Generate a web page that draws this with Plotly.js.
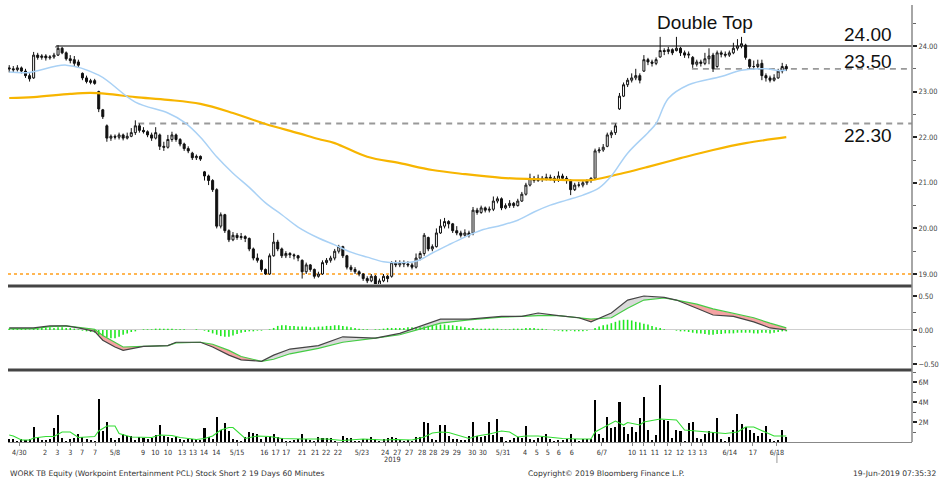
<!DOCTYPE html>
<html><head><meta charset="utf-8">
<script src="https://cdn.plot.ly/plotly-3.0.1.min.js"></script>
<style>html,body{margin:0;padding:0;background:#fff}#chart{width:939px;height:480px}</style>
</head><body><div id="chart"></div>
<script>
// ---- price bars (60-minute), 6 bars per trading day ----
const open=[
23.52,23.50,23.48,23.52,23.45,23.35, 23.30,23.80,23.75,23.78,23.74,23.76,
23.80,23.95,23.85,23.72,23.70,23.65, 23.40,23.30,23.20,23.24,23.00,22.60,
22.25,21.98,22.02,22.00,22.05,21.98, 22.02,22.10,22.25,22.15,22.12,22.05,
21.98,22.05,21.80,21.78,21.95,22.05, 21.95,21.85,21.75,21.65,21.55,21.58,
21.24,21.15,21.05,20.85,20.05,20.30, 19.95,19.75,19.85,19.80,19.82,19.78,
19.55,19.35,19.30,19.10,19.00,19.40, 19.70,19.55,19.40,19.45,19.42,19.40,
19.30,19.05,19.20,19.10,18.95,19.00, 19.25,19.30,19.35,19.50,19.60,19.40,
19.15,19.10,19.05,19.00,18.90,18.85, 18.95,18.75,18.85,18.95,18.95,19.25,
19.20,19.25,19.22,19.20,19.15,19.35, 19.45,19.80,19.55,19.60,19.90,20.05,
20.15,20.10,19.95,19.90,19.85,19.90, 19.90,20.40,20.35,20.45,20.40,20.42,
20.60,20.65,20.45,20.50,20.55,20.50, 20.60,20.75,20.95,21.10,21.05,21.10,
21.08,21.12,21.10,21.05,21.15,21.10, 21.05,20.85,20.95,20.95,21.00,21.05,
21.10,21.70,21.72,21.80,22.05,22.10, 22.62,22.90,23.15,23.25,23.30,23.35,
23.45,23.70,23.65,23.62,23.76,23.90, 23.88,23.92,23.90,23.95,23.85,23.80,
23.75,23.60,23.65,23.62,23.72,23.80, 23.55,23.85,23.82,23.80,23.85,23.95,
24.00,24.02,23.70,23.55,23.55,23.62, 23.35,23.30,23.25,23.30,23.45,23.55];
const high=[
23.58,23.56,23.58,23.55,23.50,23.40, 23.87,23.85,23.82,23.82,23.80,23.85,
24.02,23.98,23.88,23.80,23.78,23.70, 23.42,23.35,23.28,23.28,23.02,22.62,
22.28,22.06,22.06,22.10,22.08,22.10, 22.20,22.37,22.30,22.22,22.15,22.10,
22.22,22.08,21.90,22.05,22.12,22.08, 21.98,21.88,21.80,21.68,21.62,21.60,
21.26,21.18,21.08,20.88,20.35,20.32, 19.98,19.92,19.90,19.90,19.85,19.80,
19.58,19.45,19.32,19.12,19.45,19.90, 19.75,19.58,19.50,19.48,19.45,19.42,
19.32,19.25,19.22,19.12,19.05,19.30, 19.35,19.40,19.55,19.64,19.62,19.42,
19.20,19.15,19.08,19.02,18.95,19.00, 18.98,18.90,19.00,18.98,19.28,19.30,
19.30,19.30,19.28,19.25,19.45,19.50, 19.90,19.82,19.65,20.00,20.20,20.23,
20.18,20.12,20.05,19.95,19.98,19.95, 20.47,20.45,20.50,20.48,20.48,20.70,
20.70,20.68,20.55,20.62,20.58,20.65, 20.80,21.00,21.20,21.15,21.18,21.15,
21.20,21.18,21.15,21.25,21.20,21.15, 21.08,21.00,21.02,21.05,21.08,21.12,
21.75,21.78,21.85,22.10,22.15,22.30, 22.97,23.20,23.30,23.40,23.50,23.40,
23.80,23.74,23.70,23.75,24.20,23.95, 23.98,23.95,24.20,23.98,23.90,23.88,
23.78,23.70,23.70,23.85,23.95,23.85, 23.90,23.90,23.88,23.90,24.07,24.15,
24.20,24.05,23.72,23.68,23.70,23.70, 23.40,23.35,23.38,23.50,23.63,23.60];
const low=[
23.42,23.42,23.44,23.40,23.30,23.22, 23.28,23.70,23.70,23.68,23.70,23.72,
23.78,23.82,23.68,23.62,23.55,23.52, 23.25,23.18,23.16,23.15,22.55,22.40,
21.90,21.92,21.95,21.95,21.93,21.95, 22.00,22.05,22.10,22.08,22.00,21.92,
21.95,21.72,21.70,21.75,21.90,21.90, 21.80,21.70,21.65,21.50,21.50,21.48,
21.05,20.95,20.80,20.00,20.00,19.90, 19.70,19.72,19.75,19.75,19.70,19.50,
19.30,19.25,19.05,18.98,18.98,19.38, 19.50,19.35,19.35,19.35,19.32,19.28,
18.90,19.00,19.05,18.90,18.92,18.98, 19.20,19.25,19.30,19.45,19.35,19.10,
19.05,19.00,18.95,18.85,18.80,18.82, 18.70,18.72,18.82,18.82,18.92,19.15,
19.15,19.15,19.15,19.10,19.12,19.30, 19.40,19.50,19.50,19.58,19.88,20.00,
20.00,19.90,19.85,19.80,19.82,19.80, 19.85,20.30,20.32,20.35,20.35,20.38,
20.55,20.40,20.42,20.45,20.45,20.48, 20.58,20.72,20.92,21.00,21.02,21.02,
21.05,21.05,21.00,21.02,21.05,20.98, 20.73,20.82,20.90,20.90,20.95,21.00,
21.06,21.65,21.68,21.78,21.98,22.05, 22.60,22.88,23.10,23.20,23.25,23.18,
23.43,23.58,23.55,23.58,23.74,23.80, 23.82,23.80,23.88,23.78,23.74,23.73,
23.52,23.55,23.55,23.58,23.60,23.43, 23.52,23.75,23.75,23.76,23.82,23.90,
23.95,23.70,23.50,23.48,23.50,23.25, 23.22,23.20,23.22,23.28,23.40,23.45];
const close=[
23.50,23.48,23.52,23.45,23.35,23.28, 23.80,23.75,23.78,23.74,23.76,23.80,
23.95,23.85,23.72,23.68,23.62,23.58, 23.30,23.22,23.24,23.18,22.62,22.45,
21.98,22.02,22.00,22.05,21.98,22.02, 22.10,22.25,22.15,22.12,22.05,21.98,
22.10,21.80,21.78,21.95,22.05,21.95, 21.85,21.75,21.70,21.55,21.58,21.52,
21.15,21.05,20.85,20.05,20.30,19.95, 19.75,19.85,19.80,19.82,19.78,19.55,
19.35,19.30,19.10,19.00,19.40,19.70, 19.55,19.40,19.45,19.42,19.40,19.35,
19.05,19.20,19.10,18.95,19.00,19.25, 19.30,19.35,19.50,19.60,19.40,19.15,
19.10,19.05,19.00,18.90,18.85,18.95, 18.75,18.85,18.95,18.90,19.25,19.20,
19.25,19.22,19.20,19.15,19.35,19.45, 19.85,19.55,19.60,19.90,20.05,20.15,
20.10,19.95,19.90,19.85,19.90,19.85, 20.40,20.35,20.45,20.40,20.42,20.60,
20.65,20.45,20.50,20.55,20.50,20.60, 20.75,20.95,21.10,21.05,21.10,21.08,
21.12,21.10,21.05,21.15,21.10,21.05, 20.85,20.95,20.95,21.00,21.05,21.10,
21.70,21.72,21.78,22.05,22.10,22.25, 22.90,23.15,23.25,23.30,23.35,23.25,
23.70,23.65,23.62,23.70,23.90,23.88, 23.92,23.85,23.95,23.85,23.80,23.82,
23.60,23.65,23.62,23.72,23.78,23.50, 23.85,23.82,23.80,23.85,23.95,24.00,
24.05,23.75,23.55,23.55,23.60,23.35, 23.30,23.25,23.30,23.45,23.55,23.50];

// ---- moving averages on price (read at sample bars) ----
const maBlueIdx=[0,5,14,22,31,39,43,47,51,55,59,63,67,71,76,80,84,88,92,96,100,104,108,112,116,121,125,129,133,137,141,145,148,152,157,159,162,167,175,180,186,189,191];
const maBlueVal=[23.43,23.42,23.58,23.36,22.77,22.53,22.33,22.00,21.57,21.21,20.90,20.56,20.30,20.03,19.79,19.64,19.48,19.37,19.27,19.25,19.28,19.46,19.64,19.81,19.96,20.07,20.18,20.36,20.51,20.62,20.73,20.89,21.15,21.65,22.10,22.30,22.85,23.15,23.33,23.47,23.50,23.46,23.47];
const maOrangeIdx=[0,6,15,20,24,31,39,47,55,63,71,76,80,88,96,104,112,121,129,137,143,148,157,165,173,181,191];
const maOrangeVal=[22.86,22.88,22.95,22.97,22.95,22.88,22.82,22.73,22.53,22.29,22.09,21.96,21.87,21.57,21.43,21.28,21.19,21.11,21.08,21.06,21.06,21.15,21.35,21.54,21.72,21.87,22.00];

// ---- MACD ----
const macdIdx=[0,6,10,14,17,21,23,26,28,33,39,41,47,50,54,57,62,65,69,76,82,90,96,102,106,113,121,126,130,135,140,143,148,152,156,161,164,169,173,178,183,187,191];
const macdVal=[0.03,0.03,0.06,0.06,0.03,-0.02,-0.15,-0.25,-0.30,-0.24,-0.23,-0.18,-0.18,-0.25,-0.37,-0.44,-0.46,-0.37,-0.28,-0.23,-0.10,-0.12,-0.05,0.07,0.16,0.16,0.20,0.20,0.25,0.21,0.18,0.12,0.25,0.44,0.50,0.48,0.44,0.32,0.22,0.20,0.12,0.03,0.00];
const signalVal=[0.02,0.02,0.05,0.06,0.04,0.01,-0.08,-0.18,-0.25,-0.24,-0.23,-0.19,-0.18,-0.21,-0.30,-0.39,-0.46,-0.43,-0.35,-0.27,-0.18,-0.12,-0.07,0.03,0.10,0.15,0.19,0.20,0.21,0.21,0.18,0.16,0.18,0.32,0.44,0.47,0.44,0.38,0.31,0.24,0.18,0.10,0.03];
const histogram=[
0.02,0.02,0.03,0.02,0.02,0.01,0.03,0.03,0.04,0.04,0.04,0.03,0.04,0.04,0.03,0.03,0.02,0.01,
-0.01,-0.02,-0.03,-0.04,
-0.07,-0.09,-0.11,-0.12,-0.12,-0.10,
-0.07,-0.05,-0.03,-0.02,
0.00,0.01,0.01,0.01,0.02,0.02,0.02,0.02,0.02,0.01,0.01,0.01,0.00,0.00,0.01,0.00,-0.01,
-0.03,-0.05,-0.07,-0.09,-0.10,-0.10,-0.08,-0.06,-0.04,
-0.03,-0.02,-0.02,-0.01,-0.01,0.00,0.01,0.03,
0.06,0.07,0.07,0.06,0.06,0.05,0.05,0.05,0.04,0.04,0.05,0.05,0.06,0.06,0.07,0.07,0.06,0.05,0.04,0.03,0.02,0.01,
0.01,0.00,0.01,0.01,0.02,
0.03,0.03,0.03,0.03,0.03,0.04,0.04,0.04,0.04,
0.05,0.06,0.07,0.07,0.08,0.08,0.07,0.07,0.06,0.05,0.04,0.03,
0.03,0.02,0.02,0.02,0.02,0.02,0.02,0.01,0.01,0.01,0.02,0.02,0.02,0.03,0.03,0.03,0.02,0.02,
0.01,0.00,-0.01,-0.01,-0.02,-0.02,-0.01,-0.02,-0.02,-0.02,-0.01,0.00,
0.03,0.05,0.07,0.08,0.10,0.12,0.14,0.15,0.15,0.14,0.12,0.11,0.09,0.08,0.06,0.04,0.03,
0.01,0.00,0.00,-0.01,-0.02,-0.02,-0.03,
-0.04,-0.05,-0.05,-0.06,-0.07,-0.07,-0.06,-0.06,-0.05,-0.05,-0.05,-0.04,-0.04,-0.04,-0.04,-0.05,-0.05,-0.04,-0.04,-0.05,-0.04,-0.03,-0.02,-0.02];

// ---- volume (millions) ----
const volume=[
0.3,0.3,0.1,0.3,0.2,0.3, 1.5,0.5,0.2,0.2,0.3,1.4, 2.7,0.4,0.1,0.3,0.4,0.8, 0.5,0.3,0.2,0.1,4.3,1.1,
2.0,0.4,0.2,0.4,0.8,0.6, 0.6,0.2,0.5,0.4,0.3,0.4, 0.7,1.7,0.6,0.5,0.4,0.5, 0.3,0.2,0.3,0.3,0.3,0.2,
1.4,0.5,0.3,2.5,1.2,1.9, 1.1,0.3,0.2,0.1,0.5,1.0, 0.9,0.8,0.3,0.5,0.6,0.8, 0.5,0.4,0.1,0.1,0.2,0.3,
0.8,0.3,0.2,0.1,0.5,0.4, 0.4,0.4,0.1,0.05,0.6,0.4, 0.4,0.1,0.1,0.3,0.3,0.5, 0.3,0.1,0.3,0.4,0.5,0.4,
0.2,0.1,0.2,0.1,0.5,0.5, 2.0,1.9,0.3,0.2,1.7,1.7, 0.6,0.3,0.3,0.2,0.2,0.6, 2.0,0.6,0.5,0.6,2.0,0.7,
2.3,0.5,0.1,0.2,0.4,0.5, 0.4,1.6,0.3,0.2,0.4,0.5, 0.8,0.3,0.1,0.2,0.2,0.3, 0.8,0.3,0.1,0.3,0.3,0.3,
4.2,0.8,0.4,2.5,1.4,1.5, 4.0,1.5,0.8,1.5,1.0,2.4, 4.5,1.2,0.2,0.7,5.7,2.2, 2.1,0.4,1.2,1.1,0.1,1.9,
2.0,0.4,0.3,0.8,1.1,1.0, 2.4,0.3,0.1,0.5,1.2,2.8, 1.8,1.5,1.2,0.9,0.6,0.9, 1.6,0.3,0.1,0.2,1.2,0.5];
const volMaIdx=[0,1,3,5,6,9,11,13,15,17,21,22,24,26,27,30,35,37,40,42,46,48,50,52,54,55,58,61,64,67,72,78,82,87,92,95,99,102,104,106,108,110,113,115,118,121,123,125,127,130,133,136,140,143,144,147,149,151,152,155,156,160,164,166,169,173,176,179,181,183,186,188,191];
const volMaVal=[0.7,0.6,0.2,0.2,0.4,0.55,0.55,1.0,1.0,0.45,0.55,1.1,1.6,1.6,0.85,0.5,0.45,0.7,0.65,0.45,0.25,0.35,0.6,1.2,1.45,1.45,0.35,0.6,0.55,0.35,0.3,0.3,0.15,0.3,0.2,0.25,0.2,0.5,0.9,1.0,0.95,0.7,0.35,0.6,0.8,1.1,1.0,0.5,0.6,0.6,0.5,0.35,0.3,0.3,1.0,1.7,2.1,1.7,1.95,1.7,2.0,2.3,2.2,1.2,1.1,0.95,0.85,1.0,1.5,1.5,0.95,0.6,0.6];

// ---- x tick labels (bar position, text) ----
const tickIdx=[2.5,8.8,11.8,15,17.9,21.1,26,32.9,35.9,39,42.5,45.2,47.9,50.9,56,62.7,65.5,68.1,72,75.2,77.9,80.8,86.7,92.4,95.4,98.3,101.5,104.2,107.1,110,113.8,116.4,121.4,126.8,129.7,132.4,135.1,138.3,145.7,153.1,155.8,158.7,161.9,164.9,167.8,170.5,177.1,182.8,188.7];
const tickText=['4/30','2','3','3','7','7','5/8','9','10','10','13','13','14','14','5/15','16','17','17','21','21','22','22','5/23','24','27','27','28','28','29','29','30','30','5/31','4','5','5','6','6','6/7','10','11','11','12','12','13','13','6/14','17','6/18'];

// ---- reference levels ----
const levelVals=[24.00,23.50,22.30,19.00];
const levelStart=[11.5,167.8,31.7,-0.3];
const levelText=['24.00','23.50','22.30'];

// ================= drawing =================
const XMAX=221.9;
const idx=close.map((_,i)=>i);
const px=x=>(x-8)/904, py=y=>(442-y)/437;

// MACD fill polygons (pink where MACD below signal, grey where above)
const redX=[],redY=[],grayX=[],grayY=[];
function addPoly(xs,ys,neg){const X=neg?redX:grayX,Y=neg?redY:grayY;X.push(...xs,null);Y.push(...ys,null);}
for(let k=0;k<macdIdx.length-1;k++){
  const x0=macdIdx[k],x1=macdIdx[k+1],m0=macdVal[k],m1=macdVal[k+1],s0=signalVal[k],s1=signalVal[k+1];
  const d0=m0-s0,d1=m1-s1;
  if(d0*d1<0){const t=d0/(d0-d1);const xc=x0+t*(x1-x0),yc=m0+t*(m1-m0);
    addPoly([x0,xc,x0],[m0,yc,s0],d0<0);addPoly([xc,x1,x1],[yc,m1,s1],d1<0);}
  else if(d0!==0||d1!==0) addPoly([x0,x1,x1,x0],[m0,m1,s1,s0],(d0+d1)<0);
}
// histogram as thin vertical strokes so it layers with the lines
const hX=[],hY=[];
histogram.forEach((v,i)=>{hX.push(i,i,null);hY.push(0,v,null);});

const traces=[
 {type:'scatter',mode:'lines',x:maOrangeIdx,y:maOrangeVal,line:{color:'#f7b500',width:2.2,shape:'spline'},hoverinfo:'skip'},
 {type:'scatter',mode:'lines',x:maBlueIdx,y:maBlueVal,line:{color:'#a9d1f5',width:1.5,shape:'spline'},hoverinfo:'skip'},
 {type:'candlestick',x:idx,open:open,high:high,low:low,close:close,
  increasing:{line:{color:'#111',width:1},fillcolor:'#ffffff'},
  decreasing:{line:{color:'#111',width:1},fillcolor:'#111111'},hoverinfo:'skip'},
 {type:'scatter',mode:'lines',x:redX,y:redY,fill:'toself',fillcolor:'#f4a3a3',line:{width:0,color:'rgba(0,0,0,0)'},xaxis:'x',yaxis:'y2',hoverinfo:'skip'},
 {type:'scatter',mode:'lines',x:grayX,y:grayY,fill:'toself',fillcolor:'#d9d9d9',line:{width:0,color:'rgba(0,0,0,0)'},xaxis:'x',yaxis:'y2',hoverinfo:'skip'},
 {type:'scatter',mode:'lines',x:hX,y:hY,line:{color:'#22e822',width:1.6},connectgaps:false,xaxis:'x',yaxis:'y2',hoverinfo:'skip'},
 {type:'scatter',mode:'lines',x:macdIdx,y:signalVal,line:{color:'#44cc44',width:1.2},xaxis:'x',yaxis:'y2',hoverinfo:'skip'},
 {type:'scatter',mode:'lines',x:macdIdx,y:macdVal,line:{color:'#444444',width:1.2},xaxis:'x',yaxis:'y2',hoverinfo:'skip'},
 {type:'bar',x:idx,y:volume,width:0.5,marker:{color:'#000',line:{width:0}},xaxis:'x',yaxis:'y3',hoverinfo:'skip'},
 {type:'scatter',mode:'lines',x:volMaIdx,y:volMaVal,line:{color:'#33dd33',width:1.1},xaxis:'x',yaxis:'y3',hoverinfo:'skip'}
];

const shapes=[
 {type:'line',xref:'x',yref:'y',x0:levelStart[0],x1:XMAX,y0:levelVals[0],y1:levelVals[0],line:{color:'#555',width:1.6},layer:'below'},
 {type:'line',xref:'x',yref:'y',x0:levelStart[0],x1:levelStart[0],y0:levelVals[0],y1:levelVals[0]-0.04,line:{color:'#555',width:1.2},layer:'below'},
 {type:'line',xref:'x',yref:'y',x0:levelStart[1],x1:XMAX,y0:levelVals[1],y1:levelVals[1],line:{color:'#999',width:1.8,dash:'6px,5px'},layer:'below'},
 {type:'line',xref:'x',yref:'y',x0:levelStart[2],x1:XMAX,y0:levelVals[2],y1:levelVals[2],line:{color:'#999',width:1.8,dash:'6px,5px'},layer:'below'},
 {type:'line',xref:'x',yref:'y',x0:levelStart[3],x1:XMAX,y0:levelVals[3],y1:levelVals[3],line:{color:'#ff9f1a',width:1.4,dash:'dot'},layer:'below'},
 {type:'line',xref:'paper',yref:'paper',x0:0,x1:1,y0:py(286),y1:py(286),line:{color:'#444',width:3}},
 {type:'line',xref:'paper',yref:'paper',x0:0,x1:1,y0:py(370),y1:py(370),line:{color:'#444',width:3}},
 {type:'line',xref:'paper',yref:'paper',x0:1,x1:1,y0:0,y1:1,line:{color:'#888',width:1.5}},
 {type:'line',xref:'x',yref:'paper',x0:tickIdx[tickIdx.length-1],x1:tickIdx[tickIdx.length-1],y0:py(452),y1:py(463),line:{color:'#999',width:1}}
];

const bigFont={family:'Liberation Sans, Arial, sans-serif',size:19,color:'#111'};
const smallFont={family:'DejaVu Sans, Verdana, sans-serif',size:7.6,color:'#333'};
const tickFontFamily='DejaVu Sans Condensed, DejaVu Sans, sans-serif';
const annotations=[
 {xref:'paper',yref:'paper',x:px(705),y:py(23),text:'Double Top',showarrow:false,font:bigFont,xanchor:'center',yanchor:'middle'},
 {xref:'paper',yref:'paper',x:px(894),y:py(34),text:levelText[0],showarrow:false,font:bigFont,xanchor:'right',yanchor:'middle'},
 {xref:'paper',yref:'paper',x:px(894),y:py(61),text:levelText[1],showarrow:false,font:bigFont,xanchor:'right',yanchor:'middle'},
 {xref:'paper',yref:'paper',x:px(894),y:py(135),text:levelText[2],showarrow:false,font:bigFont,xanchor:'right',yanchor:'middle'},
 {xref:'paper',yref:'paper',x:px(392),y:py(459),text:'2019',showarrow:false,font:{family:tickFontFamily,size:7.3,color:'#333'},xanchor:'center',yanchor:'middle'},
 {xref:'paper',yref:'paper',x:px(8),y:py(473),text:'WORK TB Equity (Workpoint Entertainment PCL) Stock Short 2 19 Days 60 Minutes',showarrow:false,font:smallFont,xanchor:'left',yanchor:'middle'},
 {xref:'paper',yref:'paper',x:px(606),y:py(473),text:'Copyright© 2019 Bloomberg Finance L.P.',showarrow:false,font:smallFont,xanchor:'center',yanchor:'middle'},
 {xref:'paper',yref:'paper',x:px(938),y:py(473),text:'19-Jun-2019 07:35:32',showarrow:false,font:smallFont,xanchor:'right',yanchor:'middle'}
];

const yCommon={side:'right',showgrid:false,zeroline:false,showline:false,ticks:'outside',ticklen:4,tickwidth:2,tickcolor:'#222',
  tickfont:{family:tickFontFamily,size:7.4,color:'#444'},automargin:false,fixedrange:true,anchor:'x'};

const layout={
 width:939,height:480,margin:{l:8,r:27,t:5,b:38},paper_bgcolor:'#fff',plot_bgcolor:'#fff',showlegend:false,
 font:smallFont,bargap:0,hovermode:false,
 xaxis:{range:[-0.3,XMAX],anchor:'y3',tickmode:'array',tickvals:tickIdx,ticktext:tickText,tickangle:0,ticks:'outside',ticklen:3,tickcolor:'#888',
   tickfont:{family:tickFontFamily,size:7.2,color:'#333'},showgrid:false,zeroline:false,showline:true,linecolor:'#888',linewidth:1,
   rangeslider:{visible:false},automargin:false,fixedrange:true},
 yaxis:Object.assign({},yCommon,{domain:[py(284),1],range:[18.781,24.899],tickmode:'array',tickvals:[19,20,21,22,23,24],tickformat:'.2f',
   minor:{tickmode:'array',tickvals:[19.5,20.5,21.5,22.5,23.5,24.5],ticks:'outside',ticklen:3,tickcolor:'#666',tickwidth:1}}),
 yaxis2:Object.assign({},yCommon,{domain:[py(368),py(290)],range:[-0.559,0.588],tickmode:'array',tickvals:[-0.5,0,0.5],tickformat:'.2f',
   zeroline:true,zerolinecolor:'#cfcfcf',zerolinewidth:1,
   minor:{tickmode:'array',tickvals:[-0.25,0.25],ticks:'outside',ticklen:3,tickcolor:'#666',tickwidth:1}}),
 yaxis3:Object.assign({},yCommon,{domain:[0,py(372)],range:[0,7],tickmode:'array',tickvals:[2,4,6],ticktext:['2M','4M','6M'],
   minor:{tickmode:'array',tickvals:[1,3,5,7],ticks:'outside',ticklen:3,tickcolor:'#666',tickwidth:1}}),
 shapes:shapes,annotations:annotations
};

Plotly.newPlot('chart',traces,layout,{staticPlot:true,displayModeBar:false});
</script></body></html>
